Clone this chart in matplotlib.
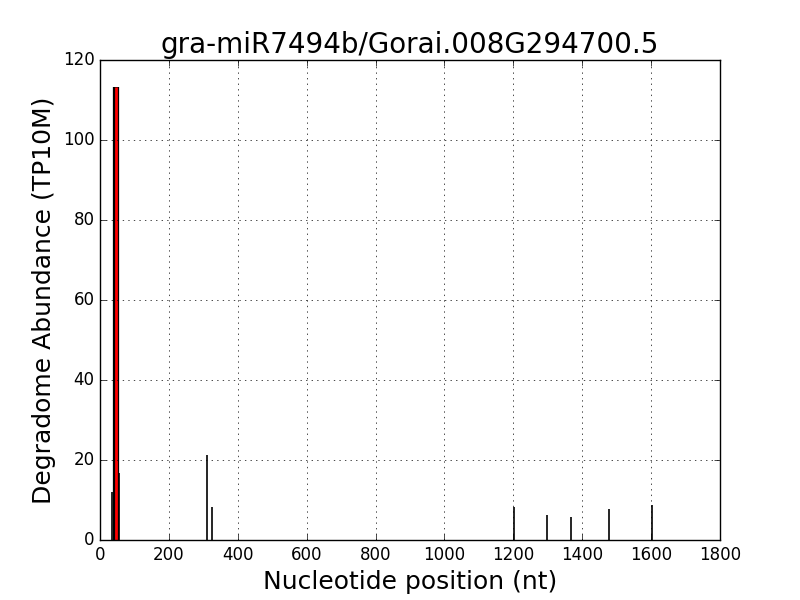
import matplotlib
matplotlib.use('Agg')
import matplotlib.pyplot as plt

# degradome tags along the transcript
positions = [35, 55, 312, 324, 1202, 1297, 1366, 1479, 1603]
abundance = [12.0, 16.8, 21.25, 8.3, 8.2, 6.25, 5.7, 7.7, 8.75]

# predicted cleavage site
site_pos = [46]
site_abund = [113.3]

plt.style.use('classic')
fig = plt.figure(figsize=(8, 6), dpi=100, facecolor='white')
ax = fig.add_subplot(111)

ax.vlines(positions, 0, abundance, colors='black', linewidth=1.2)
ax.vlines(site_pos, 0, site_abund, colors='black', linewidth=4.5)
ax.vlines(site_pos, 0, site_abund, colors='red', linewidth=2)

ax.set_xlim(0, 1800)
ax.set_ylim(0, 120)
ax.grid(True)
ax.set_title('gra-miR7494b/Gorai.008G294700.5', fontsize=20)
ax.set_xlabel('Nucleotide position (nt)', fontsize=18)
ax.set_ylabel('Degradome Abundance (TP10M)', fontsize=18)

fig.savefig('out.png', dpi=100, facecolor='white')
